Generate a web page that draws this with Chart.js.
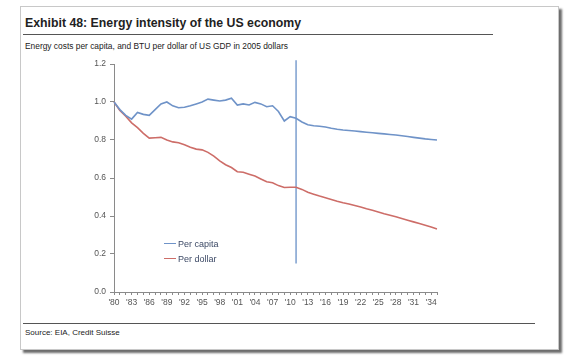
<!DOCTYPE html>
<html>
<head>
<meta charset="utf-8">
<script src="https://cdn.jsdelivr.net/npm/chart.js@4/dist/chart.umd.min.js"></script>
<style>
  html, body { margin: 0; padding: 0; background: #fff; width: 568px; height: 357px; overflow: hidden; font-family: "Liberation Sans", Arial, sans-serif; }
  #frame { position: absolute; left: 20px; top: 6px; width: 537px; height: 342px; border: 1px solid #c8c8c8; box-shadow: 3px 3px 2px #6d6d6d; background: #fff; }
  #title { position: absolute; left: 25px; top: 16px; font-size: 12.3px; font-weight: bold; color: #222; white-space: nowrap; }
  #rule1 { position: absolute; left: 23px; top: 34px; width: 470px; height: 0; border-top: 1.5px solid #555; }
  #subtitle { position: absolute; left: 25px; top: 41px; font-size: 8.4px; color: #222; white-space: nowrap; }
  #rule2 { position: absolute; left: 23px; top: 323px; width: 512px; height: 0; border-top: 1.5px solid #555; }
  #source { position: absolute; left: 25px; top: 328px; font-size: 8px; color: #222; white-space: nowrap; }
  #wrap { position: absolute; left: 0; top: 50px; width: 480px; height: 270px; }
  #legend { position: absolute; left: 164px; top: 236px; font-size: 9px; color: #3d4a66; }
  .li { display: flex; align-items: center; height: 15px; }
  .sw { width: 12px; height: 0; border-top: 1.5px solid; margin-right: 2px; }
</style>
</head>
<body>
<div id="frame"></div>
<div id="title">Exhibit 48: Energy intensity of the US economy</div>
<div id="rule1"></div>
<div id="subtitle">Energy costs per capita, and BTU per dollar of US GDP in 2005 dollars</div>
<div id="wrap"><canvas id="c"></canvas></div>
<div id="legend"></div>
<div id="rule2"></div>
<div id="source">Source: EIA, Credit Suisse</div>
<script>
// ---- data ----
const years = [];
for (let y = 1980; y <= 2035; y++) years.push(y);
const categories = years.map(y => "'" + String(y).slice(2));

const perCapita = [
  1.00, 0.96, 0.93, 0.91, 0.945, 0.935, 0.93, 0.96, 0.99, 1.00,
  0.98, 0.97, 0.972, 0.98, 0.99, 1.00, 1.015, 1.01, 1.005, 1.01,
  1.02, 0.984, 0.99, 0.984, 0.998, 0.99, 0.975, 0.98, 0.95, 0.90,
  0.923, 0.914, 0.895, 0.88, 0.875, 0.872, 0.868, 0.862, 0.857, 0.853,
  0.85, 0.847, 0.844, 0.841, 0.838, 0.835, 0.832, 0.829, 0.826, 0.822,
  0.818, 0.814, 0.81, 0.806, 0.803, 0.80
];
const perDollar = [
  1.00, 0.955, 0.925, 0.89, 0.865, 0.835, 0.81, 0.812, 0.814, 0.80,
  0.79, 0.786, 0.775, 0.762, 0.752, 0.748, 0.735, 0.715, 0.69, 0.67,
  0.655, 0.633, 0.63, 0.62, 0.61, 0.595, 0.58, 0.575, 0.56, 0.55,
  0.551, 0.551, 0.54, 0.525, 0.515, 0.505, 0.496, 0.487, 0.478, 0.47,
  0.463, 0.455, 0.447, 0.438, 0.43, 0.421, 0.412, 0.404, 0.396, 0.387,
  0.378, 0.369, 0.36, 0.351, 0.342, 0.332
];
const seriesNames = ["Per capita", "Per dollar"];
const markerCategory = "'11";
const markerRange = [0.15, 1.22];
const yTicks = [0, 0.2, 0.4, 0.6, 0.8, 1.0, 1.2];

// ---- styles ----
const blue = "#6f93c8";
const red = "#cd6d68";
const markerColor = "#5b86c2";

const chart = new Chart(document.getElementById('c'), {
  type: 'line',
  data: {
    labels: categories,
    datasets: [
      { label: seriesNames[0], data: perCapita, borderColor: blue, borderWidth: 1.6, pointRadius: 0, tension: 0 },
      { label: seriesNames[1], data: perDollar, borderColor: red, borderWidth: 1.6, pointRadius: 0, tension: 0 },
      { label: 'marker', data: markerRange.map(v => ({ x: markerCategory, y: v })), borderColor: markerColor, borderWidth: 1.2, pointRadius: 0, clip: false }
    ]
  },
  options: {
    responsive: true,
    maintainAspectRatio: false,
    animation: false,
    layout: { padding: { left: 0, right: 43, top: 14, bottom: 0 } },
    plugins: { legend: { display: false }, tooltip: { enabled: false } },
    scales: {
      x: {
        type: 'category',
        offset: false,
        afterFit(s) { s.height = 28; },
        border: { color: '#8a8a8a', width: 1 },
        grid: { drawOnChartArea: false, drawTicks: true, tickLength: 3, color: '#8a8a8a' },
        ticks: {
          autoSkip: false, maxRotation: 0, minRotation: 0, padding: 3,
          color: '#555', font: { family: 'Liberation Sans, Arial', size: 8.5 },
          callback(v, i) { return i % 3 === 0 ? categories[i] : ''; }
        }
      },
      y: {
        min: 0, max: 1.2,
        afterFit(s) { s.width = 114; },
        afterBuildTicks(s) { s.ticks = yTicks.map(v => ({ value: v })); },
        border: { color: '#8a8a8a', width: 1 },
        grid: { drawOnChartArea: false, drawTicks: true, tickLength: 4, color: '#8a8a8a' },
        ticks: {
          padding: 4, color: '#555', font: { family: 'Liberation Sans, Arial', size: 8.5 },
          callback(v) { return Number(v).toFixed(1); }
        }
      }
    }
  }
});

// legend as real text from dataset labels
const lg = document.getElementById('legend');
[[seriesNames[0], blue], [seriesNames[1], red]].forEach(([name, col]) => {
  const d = document.createElement('div'); d.className = 'li';
  const s = document.createElement('span'); s.className = 'sw'; s.style.borderColor = col;
  const t = document.createElement('span'); t.textContent = name;
  d.appendChild(s); d.appendChild(t); lg.appendChild(d);
});
</script>
</body>
</html>
